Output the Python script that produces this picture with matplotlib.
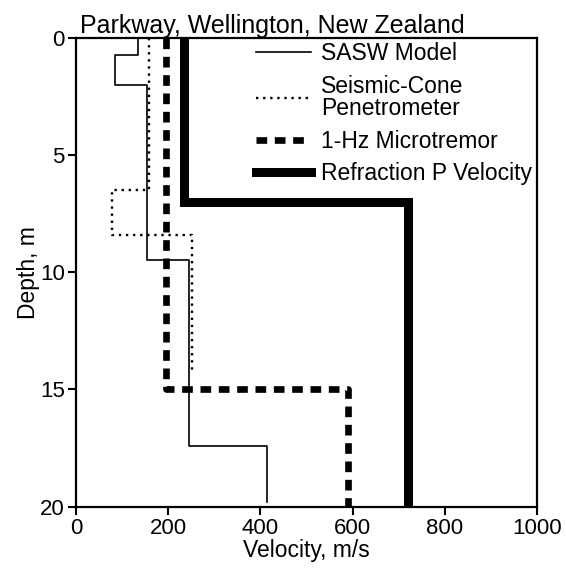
import numpy as np
import matplotlib
matplotlib.use("Agg")
import matplotlib.pyplot as plt

plt.rcParams['font.family'] = ['Liberation Sans', 'DejaVu Sans']

# layer boundaries (m) and layer velocities (m/s)
sasw_depth = [0, 0.75, 2.0, 9.5, 17.4, 19.8]
sasw_vel = [135, 85, 153, 245, 415]
cone_depth = [0, 6.5, 8.4, 14.2]
cone_vel = [158, 77, 252]
micro_depth = [0, 15, 20]
micro_vel = [195, 590]
refr_depth = [0, 7, 20]
refr_vel = [235, 720]


def profile(depth, vel):
    # turn layers into a step line
    x = np.repeat(vel, 2)
    y = np.repeat(depth, 2)[1:-1]
    return x, y


fig = plt.figure(figsize=(5.66, 5.70), dpi=100)
ax = fig.add_axes([0.1343, 0.1111, 0.8145, 0.8228])

x, y = profile(sasw_depth, sasw_vel)
ax.plot(x, y, color='black', lw=1.2, label="SASW Model")
x, y = profile(cone_depth, cone_vel)
ax.plot(x, y, color='black', lw=1.7, linestyle=(0, (1, 2)),
        label="Seismic-Cone\nPenetrometer")
x, y = profile(micro_depth, micro_vel)
ax.plot(x, y, color='black', lw=4.8, linestyle=(0, (1.6, 1.15)),
        label="1-Hz Microtremor")
x, y = profile(refr_depth, refr_vel)
ax.plot(x, y, color='black', lw=6.5, solid_joinstyle='miter',
        label="Refraction P Velocity")

ax.set_xlim(0, 1000)
ax.set_ylim(20, 0)
ax.set_xticks([0, 200, 400, 600, 800, 1000])
ax.set_yticks([0, 5, 10, 15, 20])
ax.tick_params(direction='out', length=6, width=1.5, labelsize=16, pad=2)
for s in ax.spines.values():
    s.set_linewidth(1.6)

ax.set_xlabel("Velocity, m/s", fontsize=16.5, labelpad=0)
ax.set_ylabel("Depth, m", fontsize=16.5, labelpad=0)
ax.set_title("Parkway, Wellington, New Zealand", fontsize=18, pad=2, x=0.425)

leg = ax.legend(loc='upper right', frameon=False, fontsize=16.5,
                handlelength=2.4, handletextpad=0.45, labelspacing=0.42,
                borderaxespad=0.1, borderpad=0.1)
leg.get_texts()[1].set_linespacing(0.95)

fig.savefig("out.png", dpi=100)
